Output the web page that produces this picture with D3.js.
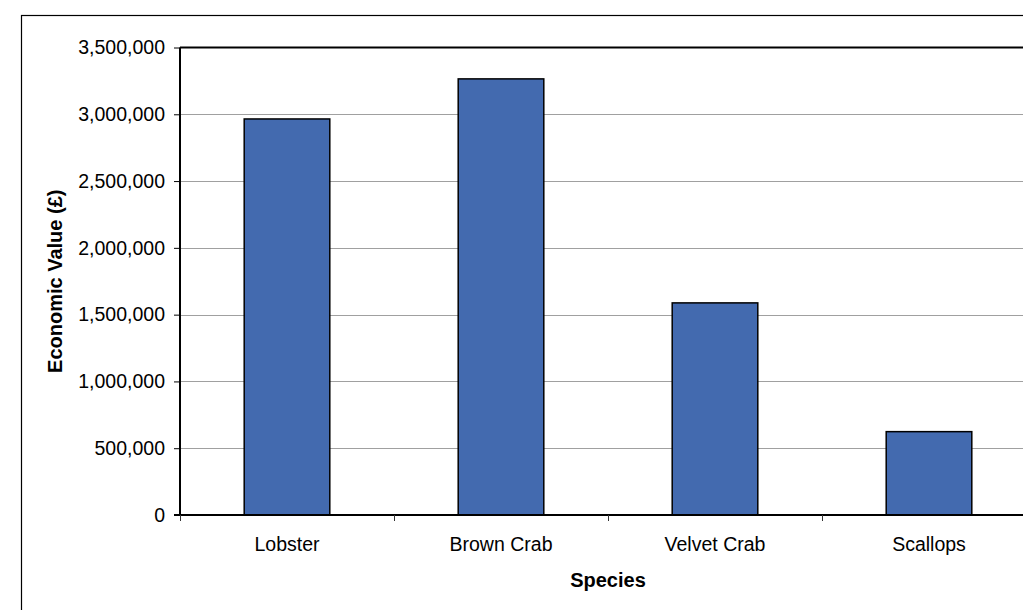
<!DOCTYPE html>
<html>
<head>
<meta charset="utf-8">
<script src="https://cdn.jsdelivr.net/npm/d3@7"></script>
<style>
  body { margin: 0; background: #fff; }
  svg { display: block; font-family: "Liberation Sans", Arial, sans-serif; }
</style>
</head>
<body>
<div id="chart"></div>
<script>
const width = 1023;
const height = 610;

// data
const species = ["Lobster", "Brown Crab", "Velvet Crab", "Scallops"];
const values = [2965000, 3265000, 1588000, 624000];
const yTicks = [0, 500000, 1000000, 1500000, 2000000, 2500000, 3000000, 3500000];

const plot = { left: 180, top: 47.5, right: 1036, bottom: 515 };

const svg = d3.select("#chart")
  .append("svg")
  .attr("width", width)
  .attr("height", height);

// outer chart border
svg.append("rect")
  .attr("x", 21.5)
  .attr("y", 15.5)
  .attr("width", 1100)
  .attr("height", 700)
  .attr("fill", "none")
  .attr("stroke", "#000")
  .attr("stroke-width", 1.2);

const x = d3.scaleBand()
  .domain(species)
  .range([plot.left, plot.right])
  .paddingInner(0.6)
  .paddingOuter(0.3);

const y = d3.scaleLinear()
  .domain([0, 3500000])
  .range([plot.bottom, plot.top]);

const fmt = d3.format(",");

// gridlines
svg.append("g")
  .selectAll("line")
  .data(yTicks.filter(d => d > 0 && d < 3500000))
  .enter().append("line")
  .attr("x1", plot.left)
  .attr("x2", plot.right)
  .attr("y1", d => Math.round(y(d)) + 0.5)
  .attr("y2", d => Math.round(y(d)) + 0.5)
  .attr("stroke", "#a0a0a0")
  .attr("stroke-width", 1);

// plot top border
svg.append("line")
  .attr("x1", plot.left)
  .attr("x2", plot.right + 10)
  .attr("y1", plot.top)
  .attr("y2", plot.top)
  .attr("stroke", "#000")
  .attr("stroke-width", 2);

// bars
svg.append("g")
  .selectAll("rect")
  .data(species)
  .enter().append("rect")
  .attr("x", d => x(d))
  .attr("width", x.bandwidth())
  .attr("y", (d, i) => y(values[i]))
  .attr("height", (d, i) => y(0) - y(values[i]))
  .attr("fill", "#436aaf")
  .attr("stroke", "#000")
  .attr("stroke-width", 1.5);

// y axis
const yAxis = svg.append("g")
  .attr("transform", `translate(${plot.left},0)`)
  .call(d3.axisLeft(y).tickValues(yTicks).tickFormat(fmt).tickSize(6).tickPadding(9));
yAxis.select(".domain").attr("stroke", "#000").attr("stroke-width", 2).attr("d", `M0,${plot.top}V${plot.bottom}`);
yAxis.selectAll(".tick line").attr("stroke", "#000");
yAxis.selectAll("text").attr("font-size", 19.5).attr("fill", "#000").attr("font-family", "Liberation Sans, Arial, sans-serif");

// x axis
const step = x.step();
const bounds = d3.range(species.length + 1).map(i => plot.left + i * (plot.right - plot.left) / species.length);
const xAxis = svg.append("g");
xAxis.append("line")
  .attr("x1", plot.left - 6)
  .attr("x2", plot.right)
  .attr("y1", plot.bottom)
  .attr("y2", plot.bottom)
  .attr("stroke", "#000")
  .attr("stroke-width", 2);
xAxis.selectAll(".xtick")
  .data(bounds)
  .enter().append("line")
  .attr("class", "xtick")
  .attr("x1", d => d + 0.5)
  .attr("x2", d => d + 0.5)
  .attr("y1", plot.bottom)
  .attr("y2", plot.bottom + 6)
  .attr("stroke", "#333")
  .attr("stroke-width", 1);
xAxis.selectAll(".xlabel")
  .data(species)
  .enter().append("text")
  .attr("class", "xlabel")
  .attr("x", d => x(d) + x.bandwidth() / 2)
  .attr("y", 551)
  .attr("text-anchor", "middle")
  .attr("font-size", 19.5)
  .text(d => d);

// axis titles
svg.append("text")
  .attr("x", (plot.left + plot.right) / 2)
  .attr("y", 587)
  .attr("text-anchor", "middle")
  .attr("font-size", 20)
  .attr("font-weight", "bold")
  .text("Species");

svg.append("text")
  .attr("transform", `translate(62,${(plot.top + plot.bottom) / 2}) rotate(-90)`)
  .attr("text-anchor", "middle")
  .attr("font-size", 20)
  .attr("font-weight", "bold")
  .text("Economic Value (£)");
</script>
</body>
</html>
